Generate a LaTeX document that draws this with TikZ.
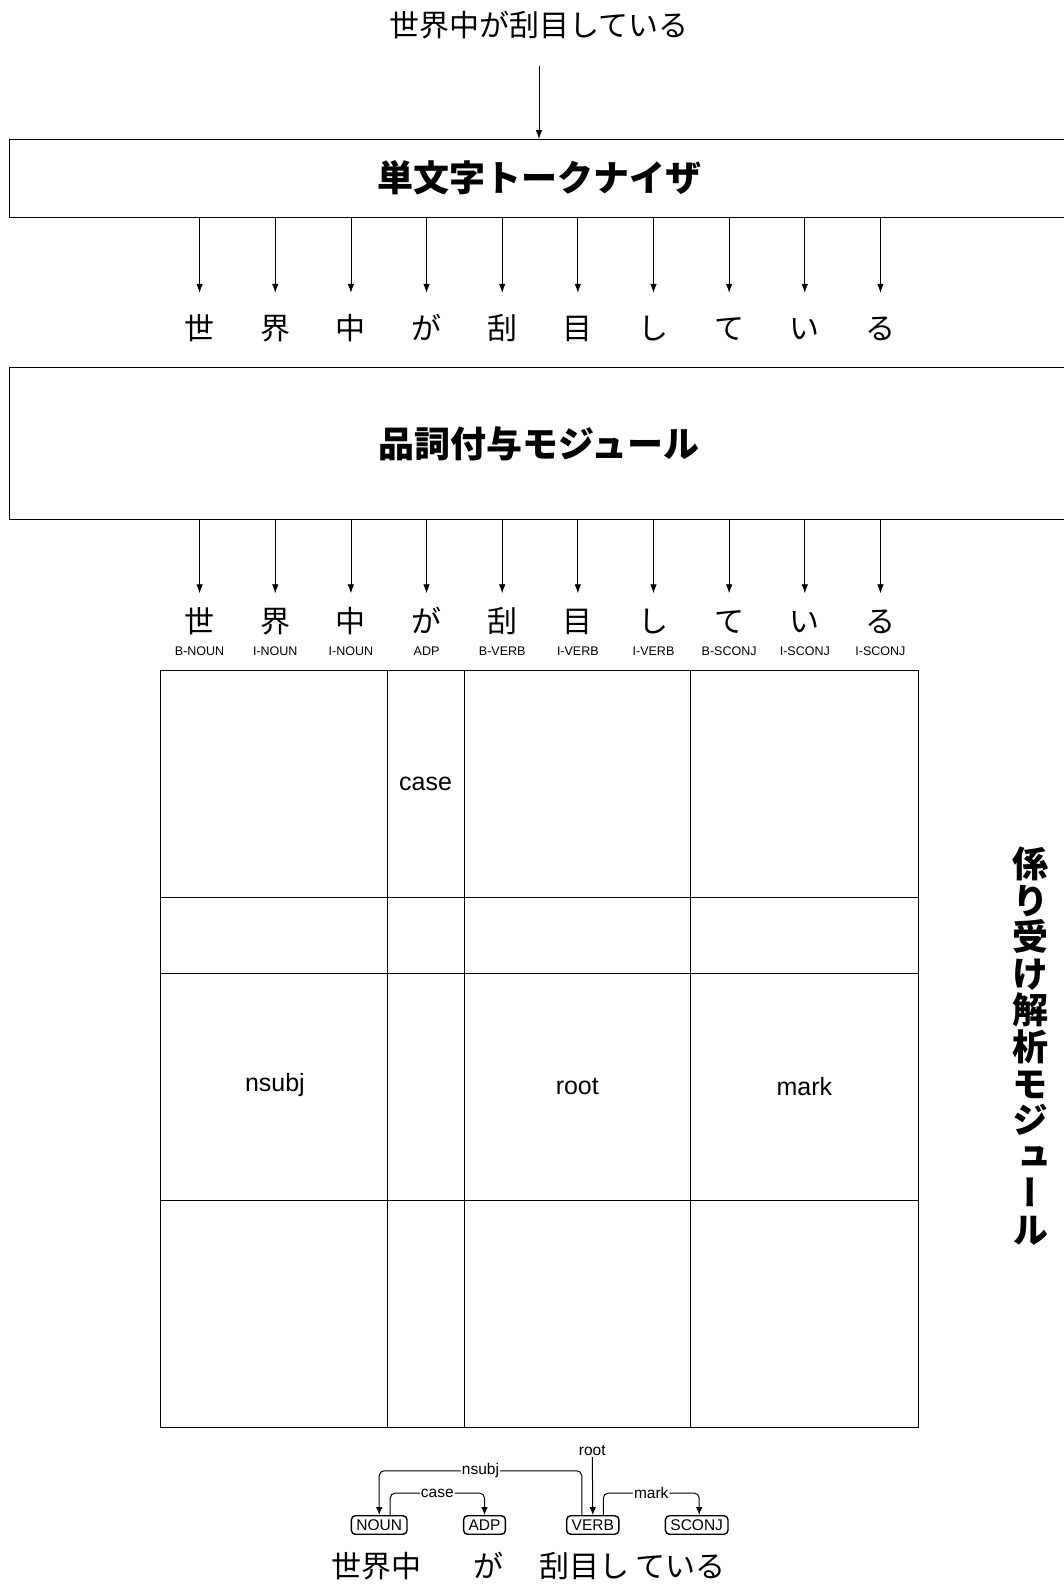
\documentclass[tikz,border=0pt]{standalone}
\usepackage{fontspec}
\setmainfont{Liberation Sans}
\newfontfamily\jp{Noto Sans CJK JP}
\newfontfamily\jpv[RawFeature=+vert]{Noto Sans CJK JP}
\usetikzlibrary{arrows.meta,calc}
\tikzset{
  arr/.style={-{Latex[length=9pt,width=6.5pt]}, line width=0.8pt},
  bigbox/.style={draw, line width=1pt, minimum width=1058.8pt, inner sep=0pt},
  tok/.style={font=\jp\fontsize{30}{30}\selectfont, inner sep=0pt, text height=26pt, text depth=4pt},
  tag/.style={font=\fontsize{12.5}{13}\selectfont, inner sep=0pt},
  celllbl/.style={font=\fontsize{25}{26}\selectfont, inner sep=0pt},
  posbox/.style={draw, rounded corners=4pt, line width=1.4pt, font=\fontsize{15.5}{15.5}\selectfont, inner xsep=5pt, inner ysep=0pt, minimum height=18.5pt},
  dep/.style={-{Latex[length=8pt,width=6.5pt]}, line width=1pt, rounded corners=5pt},
  deplbl/.style={fill=white, font=\fontsize{15.5}{15.5}\selectfont, inner sep=1pt},
  gridline/.style={line width=1pt},
}
\begin{document}
\begin{tikzpicture}[x=1pt,y=-1pt]
\clip (0,0) rectangle (1064,1596);
\fill[white] (0,0) rectangle (1064,1596);

% title
\node[tok] (title) at (539,25.5) {世界中が刮目している};

% tokenizer box
\node[bigbox, minimum height=77.5pt, font=\jp\bfseries\fontsize{36}{36}\selectfont] (tokbox) at (539,178.25) {単文字トークナイザ};
\draw[arr, shorten <=25.5pt] (title.south) -- (tokbox.north);

% tokens row 1
\foreach \c [count=\i from 0] in {世,界,中,が,刮,目,し,て,い,る} {
  \node[tok] (a\i) at ({199.6+75.65*\i},328) {\c};
  \draw[arr, shorten >=20pt] (a\i.north |- tokbox.south) -- (a\i.north);
}

% POS box
\node[bigbox, minimum height=151.8pt, font=\jp\bfseries\fontsize{36}{36}\selectfont] (posmod) at (539,443.4) {品詞付与モジュール};

% tokens row 2 with tags
\foreach \c/\t [count=\i from 0] in {世/B-NOUN,界/I-NOUN,中/I-NOUN,が/ADP,刮/B-VERB,目/I-VERB,し/I-VERB,て/B-SCONJ,い/I-SCONJ,る/I-SCONJ} {
  \node[tok] (b\i) at ({199.6+75.65*\i},621) {\c};
  \node[tag] (g\i) at ({199.6+75.65*\i},651.6) {\t};
  \draw[arr, shorten >=12.5pt] (b\i.north |- posmod.south) -- (b\i.north);
}

% grid
\draw[gridline] (160.9,670) rectangle (918.4,1427.5);
\foreach \xx in {387.9,464.3,690.3} \draw[gridline] (\xx,670) -- (\xx,1427.5);
\foreach \yy in {897,973.4,1200.5} \draw[gridline] (160.9,\yy) -- (918.4,\yy);
\node[celllbl] (lcase) at (425.6,783.5) {case};
\node[celllbl] (lnsubj) at (274.9,1085) {nsubj};
\node[celllbl] (lroot) at (577.3,1087) {root};
\node[celllbl] (lmark) at (804.4,1087) {mark};

% vertical label
\node[font=\jpv\bfseries\fontsize{36}{36.6}\selectfont, align=center, inner sep=0pt] (deplabel) at (1030,1046)
  {係\\り\\受\\け\\解\\析\\モ\\ジ\\ュ\\ー\\ル};

% dependency tree
\node[posbox] (noun) at (379.2,1525) {NOUN};
\node[posbox] (adp) at (484.5,1525) {ADP};
\node[posbox] (verb) at (592.8,1525) {VERB};
\node[posbox] (sconj) at (696.7,1525) {SCONJ};
\node[tok] (w1) at (376.7,1566) {世界中};
\node[tok] (w2) at (488,1566) {が};
\node[tok] (w3) at (584,1566) {刮目し};
\node[tok] (w4) at (680.8,1566) {ている};

\node[font=\fontsize{15.5}{15.5}\selectfont, inner sep=0pt] (rootlbl) at (592.3,1450.7) {root};
\draw[dep, shorten <=1pt] (rootlbl.south) -- (verb.north);
\draw[dep] ([xshift=-11pt]verb.north) -- ++(0,-44.3) -| node[deplbl, pos=0.25] {nsubj} (noun.north);
\draw[dep] ([xshift=11pt]noun.north) -- ++(0,-22) -| node[deplbl, pos=0.25] {case} (adp.north);
\draw[dep] ([xshift=10.5pt]verb.north) -- ++(0,-22) -| node[deplbl, pos=0.25] {mark} ([xshift=2.5pt]sconj.north);
\end{tikzpicture}
\end{document}
